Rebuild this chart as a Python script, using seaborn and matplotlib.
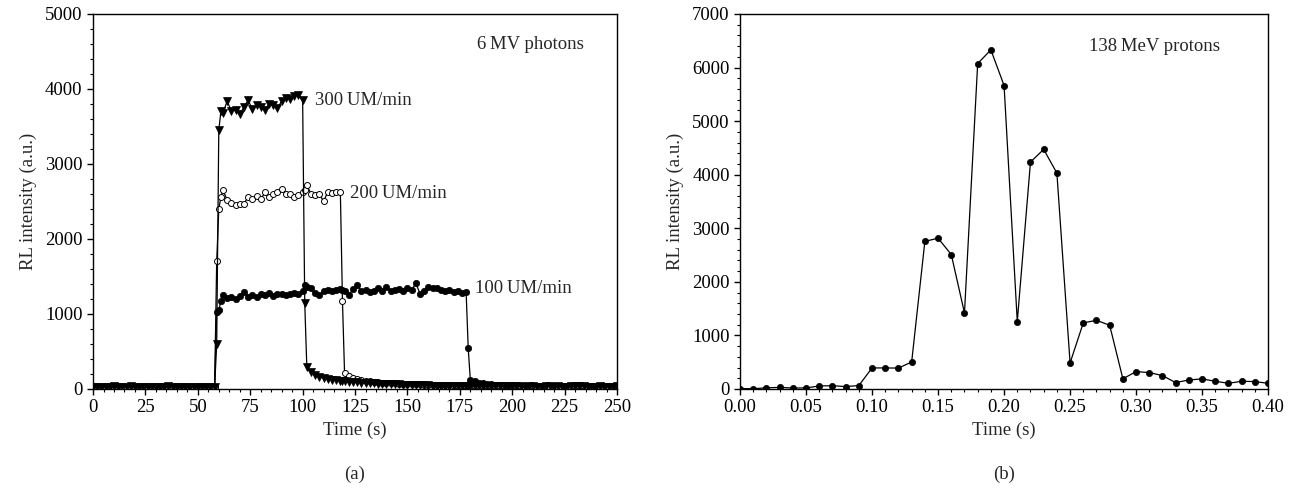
import numpy as np
import pandas as pd
import matplotlib
matplotlib.use("Agg")
import matplotlib.pyplot as plt
from matplotlib.ticker import MultipleLocator, FormatStrFormatter
import seaborn as sns

# ── Panel (a): 6 MV photons, RL signal vs time at three dose rates ─────────────
time_a = [
    0, 2, 4, 6, 8, 10, 12, 14, 16, 18, 20, 22, 24, 26, 28, 30, 32, 34, 36, 38,
    40, 42, 44, 46, 48, 50, 52, 54, 56, 58,
    59, 60, 61,
    62, 64, 66, 68, 70, 72, 74, 76, 78, 80, 82, 84, 86, 88, 90, 92, 94, 96, 98, 100,
    101,
    102, 104, 106, 108, 110, 112, 114, 116, 118,
    119,
    120, 122, 124, 126, 128, 130, 132, 134, 136, 138, 140, 142, 144, 146, 148,
    150, 152, 154, 156, 158, 160, 162, 164, 166, 168, 170, 172, 174, 176, 178,
    179,
    180, 182, 184, 186, 188, 190, 192, 194, 196, 198, 200, 202, 204, 206, 208,
    210, 212, 214, 216, 218, 220, 222, 224, 226, 228, 230, 232, 234, 236, 238,
    240, 242, 244, 246, 248, 250,
]

rate_300 = [
    25, 30, 20, 28, 22, 35, 25, 20, 30, 40, 25, 22, 28, 20, 30, 25, 22, 28, 35, 25,
    20, 30, 22, 25, 28, 20, 25, 30, 22, 25,
    600, 3450, 3700,
    3680, 3840, 3700, 3720, 3660, 3760, 3850, 3730, 3780, 3760, 3720, 3800, 3790, 3740,
    3840, 3880, 3860, 3900, 3920, 3850,
    1150,
    290, 220, 180, 160, 145, 135, 125, 115, 108,
    104,
    100, 95, 90, 88, 85, 80, 78, 75, 72, 70, 68, 65, 62, 60, 58,
    56, 55, 52, 50, 50, 48, 46, 45, 45, 44, 42, 42, 40, 40, 40,
    40,
    38, 36, 40, 35, 38, 34, 36, 40, 35, 33, 36, 38, 34, 32, 35,
    36, 33, 30, 34, 36, 32, 35, 30, 33, 35, 38, 42, 35, 32, 30,
    33, 35, 32, 30, 32, 34,
]

rate_200 = [
    20, 25, 28, 22, 30, 20, 25, 28, 22, 25, 30, 20, 25, 22, 28, 30, 25, 20, 22, 28,
    25, 30, 20, 25, 22, 28, 25, 20, 25, 22,
    1700, 2400, 2560,
    2650, 2520, 2480, 2450, 2460, 2470, 2560, 2530, 2570, 2530, 2620, 2560, 2600, 2620,
    2670, 2600, 2600, 2560, 2580, 2620,
    2650,
    2720, 2600, 2580, 2600, 2500, 2630, 2610, 2620, 2620,
    1170,
    210, 170, 150, 135, 120, 110, 100, 95, 90, 85, 80, 78, 75, 72, 70,
    68, 65, 62, 60, 58, 56, 55, 52, 50, 50, 48, 46, 45, 44, 42,
    42,
    40, 38, 42, 38, 36, 40, 38, 35, 38, 36, 34, 38, 35, 33, 36,
    35, 32, 34, 36, 33, 35, 32, 34, 36, 33, 35, 40, 36, 33, 32,
    34, 33, 31, 32, 33, 35,
]

rate_100 = [
    30, 22, 25, 30, 20, 28, 25, 30, 22, 28, 20, 25, 30, 22, 25, 20, 28, 25, 30, 22,
    25, 20, 28, 30, 25, 22, 20, 28, 25, 30,
    1020, 1050, 1170,
    1250, 1210, 1230, 1200, 1240, 1290, 1230, 1250, 1220, 1270, 1250, 1280, 1240, 1260,
    1270, 1250, 1260, 1280, 1260, 1300,
    1380,
    1360, 1340, 1280, 1250, 1300, 1320, 1310, 1320, 1330,
    1320,
    1310, 1250, 1330, 1380, 1300, 1320, 1290, 1310, 1340, 1310, 1360, 1300, 1320, 1330, 1310,
    1340, 1320, 1410, 1270, 1300, 1360, 1350, 1340, 1320, 1300, 1320, 1290, 1300, 1280, 1290,
    540,
    120, 100, 85, 75, 68, 62, 58, 55, 52, 50, 48, 46, 45, 44, 42,
    42, 40, 40, 40, 38, 38, 45, 40, 36, 38, 42, 48, 40, 36, 35,
    38, 36, 34, 35, 36, 38,
]

# ── Panel (b): 138 MeV protons ─────────────────────────────────────────────────
time_b = [
    0.00, 0.01, 0.02, 0.03, 0.04, 0.05, 0.06, 0.07, 0.08, 0.09,
    0.10, 0.11, 0.12, 0.13, 0.14, 0.15, 0.16, 0.17, 0.18, 0.19,
    0.20, 0.21, 0.22, 0.23, 0.24, 0.25, 0.26, 0.27, 0.28, 0.29,
    0.30, 0.31, 0.32, 0.33, 0.34, 0.35, 0.36, 0.37, 0.38, 0.39, 0.40,
]
protons = [
    8, 5, 22, 30, 18, 20, 56, 62, 44, 65,
    393, 393, 390, 505, 2755, 2815, 2510, 1420, 6075, 6330,
    5665, 1258, 4236, 4473, 4030, 486, 1234, 1282, 1189, 190,
    325, 306, 250, 119, 169, 188, 144, 106, 144, 138, 106,
]

df_a = pd.DataFrame({"t": time_a, "r300": rate_300, "r200": rate_200, "r100": rate_100})
df_b = pd.DataFrame({"t": time_b, "rl": protons})

sns.set_style("ticks")
plt.rcParams["font.family"] = ["Liberation Serif", "DejaVu Serif"]

FS = 13.5
fig = plt.figure(figsize=(12.92, 4.98), dpi=100)
ax_a = fig.add_axes([0.0720, 0.2189, 0.4056, 0.7530])
ax_b = fig.add_axes([0.5728, 0.2189, 0.4087, 0.7530])

line_kw = dict(color="black", linewidth=0.9, sort=False, legend=False)

sns.lineplot(data=df_a, x="t", y="r100", ax=ax_a, marker="o", markersize=4.6,
             markerfacecolor="black", markeredgecolor="black", markeredgewidth=0.5, **line_kw)
sns.lineplot(data=df_a, x="t", y="r200", ax=ax_a, marker="o", markersize=4.3,
             markerfacecolor="white", markeredgecolor="black", markeredgewidth=0.7, **line_kw)
sns.lineplot(data=df_a, x="t", y="r300", ax=ax_a, marker="v", markersize=5.2,
             markerfacecolor="black", markeredgecolor="black", markeredgewidth=0.5, **line_kw)

sns.lineplot(data=df_b, x="t", y="rl", ax=ax_b, marker="o", markersize=4.5,
             markerfacecolor="black", markeredgecolor="black", markeredgewidth=0.5, **line_kw)

for ax in (ax_a, ax_b):
    for spine in ax.spines.values():
        spine.set_visible(True)
        spine.set_color("black")
        spine.set_linewidth(1.0)
    ax.tick_params(which="both", direction="out", colors="black", labelsize=FS,
                   top=False, right=False)
    ax.tick_params(which="major", length=4, width=1.0)
    ax.tick_params(which="minor", length=2.5, width=0.8)
    ax.set_xlabel("Time (s)", fontsize=FS, labelpad=4)
    ax.set_ylabel("RL intensity (a.u.)", fontsize=FS, labelpad=6)
    ax.grid(False)

ax_a.set_xlim(0, 250)
ax_a.set_ylim(0, 5000)
ax_a.xaxis.set_major_locator(MultipleLocator(25))
ax_a.xaxis.set_minor_locator(MultipleLocator(5))
ax_a.yaxis.set_major_locator(MultipleLocator(1000))
ax_a.yaxis.set_minor_locator(MultipleLocator(200))

ax_b.set_xlim(0, 0.40)
ax_b.set_ylim(0, 7000)
ax_b.xaxis.set_major_locator(MultipleLocator(0.05))
ax_b.xaxis.set_minor_locator(MultipleLocator(0.01))
ax_b.xaxis.set_major_formatter(FormatStrFormatter("%.2f"))
ax_b.yaxis.set_major_locator(MultipleLocator(1000))
ax_b.yaxis.set_minor_locator(MultipleLocator(200))

# annotations
ax_a.text(234, 4590, "6\u2009MV photons", fontsize=FS, ha="right", va="center")
ax_a.text(106, 3850, "300\u2009UM/min", fontsize=FS, ha="left", va="center")
ax_a.text(122.5, 2610, "200\u2009UM/min", fontsize=FS, ha="left", va="center")
ax_a.text(182, 1340, "100\u2009UM/min", fontsize=FS, ha="left", va="center")
ax_b.text(0.264, 6385, "138\u2009MeV protons", fontsize=FS, ha="left", va="center")

fig.text(355 / 1292, 1 - 474 / 498, "(a)", fontsize=FS, ha="center", va="center")
fig.text(1004 / 1292, 1 - 474 / 498, "(b)", fontsize=FS, ha="center", va="center")

fig.savefig("out.png", dpi=100)
plt.close(fig)
